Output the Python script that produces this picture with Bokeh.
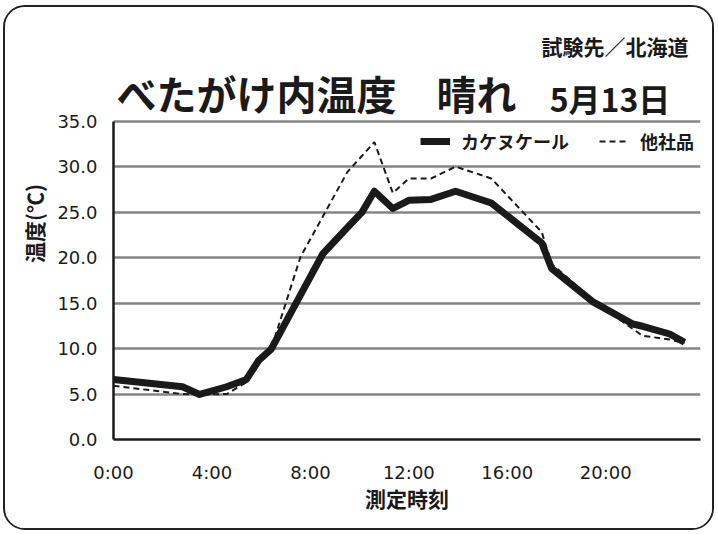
from bokeh.plotting import figure
from bokeh.models import Legend, LegendItem, FixedTicker, Range1d, CustomJSTickFormatter
from bokeh.core.properties import value
from bokeh.embed import file_html
from bokeh.resources import INLINE

# data (hours from 0:00, temperature in °C)
hours = [0.0, 2.8, 3.5, 4.6, 5.4, 5.9, 6.4, 7.6, 8.5, 9.5, 10.1, 10.6, 11.35, 12.0,
         12.9, 13.9, 15.35, 17.4, 17.8, 19.5, 21.1, 21.5, 22.6, 23.2]
kakenu = [6.6, 5.8, 4.95, 5.8, 6.6, 8.7, 9.9, 15.9, 20.4, 23.3, 25.0, 27.3, 25.4, 26.3,
          26.4, 27.3, 26.0, 21.6, 18.8, 15.1, 12.7, 12.45, 11.6, 10.7]
other = [5.9, 5.0, 4.95, 5.0, 6.3, 8.6, 9.9, 20.1, 24.5, 29.4, 31.2, 32.7, 27.1, 28.7,
         28.7, 30.0, 28.7, 22.8, 19.3, 15.3, 12.15, 11.4, 11.0, 10.6]
tick_hours = [0, 4, 8, 12, 16, 20]
tick_labels = ["0:00", "4:00", "8:00", "12:00", "16:00", "20:00"]
y_ticks = [0, 5, 10, 15, 20, 25, 30, 35]
title_main = "べたがけ内温度　晴れ"
title_date = "5月13日"
title_site = "試験先／北海道"

FONT = "Noto Sans CJK JP"
NUMFONT = "DejaVu Sans"
W, H = 711, 525
X_END = 23.85     # right edge of the plotting area (hours)
Y_END = 47.5      # frame extends above 35 °C to hold the titles

p = figure(width=W, height=H, output_backend="svg", toolbar_location=None,
           x_range=Range1d(0, X_END), y_range=Range1d(0, Y_END),
           min_border_left=108, min_border_right=16, min_border_top=0,
           min_border_bottom=93)
p.styles = {"border": "2px solid #222", "border-radius": "22px", "overflow": "hidden",
            "margin-top": "5px", "margin-left": "3px"}
p.outline_line_color = None
p.background_fill_color = "white"
p.border_fill_color = "white"

l1 = p.line(hours, kakenu, line_color="#1a1a1a", line_width=7, line_join="round")
l2 = p.line(hours, other, line_color="#1a1a1a", line_width=2, line_dash="6 4")

# titles (placed in the empty band above the 35 °C line)
p.text(x=[0.12], y=[38.1], text=[title_main], text_font=value(FONT),
       text_font_size=value("40px"), text_font_style="bold", text_color="#1a1a1a",
       text_baseline="middle", text_align="left")
p.text(x=[17.72], y=[37.55], text=[title_date], text_font=value(FONT),
       text_font_size=value("32px"), text_font_style="bold", text_color="#1a1a1a",
       text_baseline="middle", text_align="left")
p.text(x=[23.36], y=[43.25], text=[title_site], text_font=value(FONT),
       text_font_size=value("21px"), text_font_style="bold", text_color="#1a1a1a",
       text_baseline="middle", text_align="right")

p.xgrid.grid_line_color = None
p.ygrid.ticker = FixedTicker(ticks=y_ticks)
p.ygrid.grid_line_color = "#858585"
p.ygrid.grid_line_width = 2.5

p.yaxis.ticker = FixedTicker(ticks=y_ticks)
p.yaxis.bounds = (0, 35)
p.yaxis.formatter = CustomJSTickFormatter(code="return tick.toFixed(1);")
p.xaxis.ticker = FixedTicker(ticks=tick_hours)
p.xaxis.major_label_overrides = {h: s for h, s in zip(tick_hours, tick_labels)}

for ax in (p.xaxis[0], p.yaxis[0]):
    ax.axis_line_color = "#1a1a1a"
    ax.axis_line_width = 2.5
    ax.major_tick_line_color = None
    ax.minor_tick_line_color = None
    ax.major_label_text_font = NUMFONT
    ax.major_label_text_font_size = "18px"
    ax.major_label_text_color = "#1a1a1a"
    ax.axis_label_text_font = FONT
    ax.axis_label_text_font_size = "21px"
    ax.axis_label_text_font_style = "bold"
    ax.axis_label_text_color = "#1a1a1a"

p.xaxis.axis_label = "測定時刻"
p.xaxis.major_label_standoff = 16
p.xaxis.axis_label_standoff = -3
p.yaxis.axis_label = "温度(℃)"
p.yaxis.major_label_standoff = 10
p.yaxis.axis_label_standoff = 5

legend = Legend(items=[LegendItem(label="カケヌケール", renderers=[l1]),
                       LegendItem(label="他社品", renderers=[l2])],
                orientation="horizontal", location=(307, 285),
                background_fill_alpha=0, border_line_color=None,
                label_text_font=FONT, label_text_font_size="18px",
                label_text_font_style="bold", label_text_color="#1a1a1a",
                glyph_width=30, glyph_height=20, spacing=30, margin=0, padding=0,
                label_standoff=11)
p.add_layout(legend)

open("out.html", "w").write(file_html(p, INLINE))
